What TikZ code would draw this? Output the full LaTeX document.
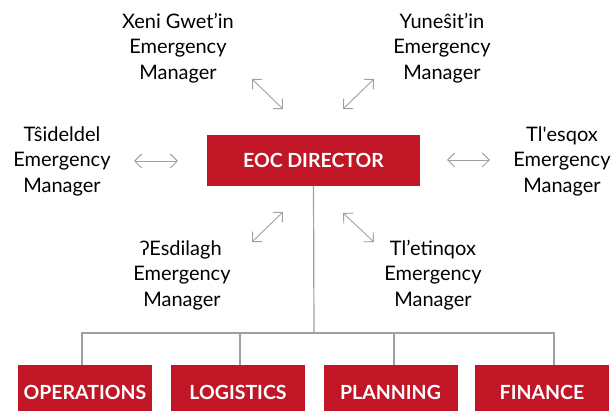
\documentclass[tikz,border=0pt]{standalone}
\usepackage{fontspec}
\setmainfont{Lato}
\usetikzlibrary{arrows.meta}
\definecolor{eocred}{RGB}{192,22,38}
\definecolor{linkgray}{RGB}{160,160,160}
\tikzset{
  unit/.style={fill=eocred,text=white,inner sep=0pt,minimum height=55pt,minimum width=134pt,font=\fontsize{19.5}{22}\selectfont\bfseries},
  mgr/.style={align=center,inner sep=0pt,font=\fontsize{20}{25.5}\selectfont},
  link/.style={draw=linkgray,line width=0.9pt,{Straight Barb[length=7pt,width=14pt]}-{Straight Barb[length=7pt,width=14pt]}},
  tree/.style={draw=linkgray,line width=1.2pt}
}
\begin{document}
\begin{tikzpicture}[x=1pt,y=-1pt]
  \useasboundingbox (0,0) rectangle (614,411);
  % director and the four sections
  \node[unit,minimum width=213pt,minimum height=51pt] (dir) at (313.5,160.5) {EOC DIRECTOR};
  \node[unit] (ops) at (85,392.5) {OPERATIONS};
  \node[unit] (log) at (238,392.5) {LOGISTICS};
  \node[unit] (pla) at (390.5,392.5) {PLANNING};
  \node[unit] (fin) at (542,392.5) {FINANCE};
  % the six managers
  \node[mgr] (xeni) at (178,48) {Xeni Gwet’in\\Emergency\\Manager};
  \node[mgr] (yune) at (442,48) {Yuneŝit’in\\Emergency\\Manager};
  \node[mgr] (tsid) at (62,161) {Tŝideldel\\Emergency\\Manager};
  \node[mgr] (tles) at (562,161) {Tl\textquotesingle esqox\\Emergency\\Manager};
  \node[mgr] (esdi) at (182,275) {ʔEsdilagh\\Emergency\\Manager};
  \node[mgr] (tlet) at (433,275) {Tl’etinqox\\Emergency\\Manager};
  % arrow ends
  \coordinate (xa) at (252,79);  \coordinate (xb) at (283,109);
  \coordinate (ya) at (343,109); \coordinate (yb) at (374,79);
  \coordinate (ta) at (134,161); \coordinate (tb) at (178,161);
  \coordinate (la) at (447,160); \coordinate (lb) at (490,160);
  \coordinate (ea) at (252,242); \coordinate (eb) at (283,212);
  \coordinate (qa) at (343,213); \coordinate (qb) at (374,242);
  \draw[link] (xa)--(xb);
  \draw[link] (ya)--(yb);
  \draw[link] (ta)--(tb);
  \draw[link] (la)--(lb);
  \draw[link] (ea)--(eb);
  \draw[link] (qa)--(qb);
  % tree
  \coordinate (bus) at (314,333);
  \draw[tree] (dir.south) -- (bus);
  \draw[tree] ([xshift=-3pt]ops.north) |- (bus);
  \draw[tree] ([xshift=2pt]log.north) |- (bus);
  \draw[tree] ([xshift=3.5pt]pla.north) |- (bus);
  \draw[tree] ([xshift=12pt]fin.north) |- (bus);
\end{tikzpicture}
\end{document}
